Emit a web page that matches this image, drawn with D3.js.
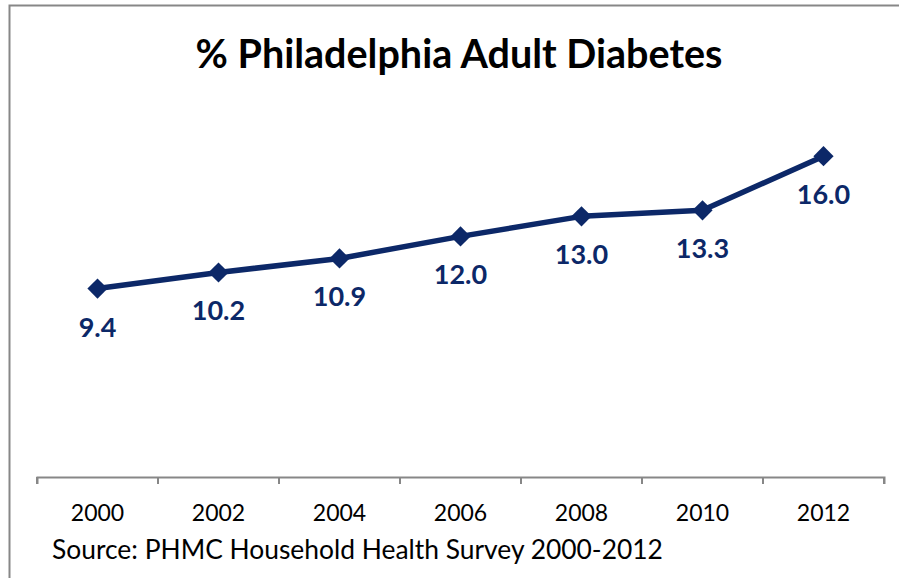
<meta charset="utf-8">
<title>Philadelphia Adult Diabetes</title>
<style>
  body { margin: 0; background: #fff; }
</style>
<body>
<script src="https://cdn.jsdelivr.net/npm/d3@7"></script>
<script>

var width = 899;
var height = 578;
var margin = { top: 76, right: 15, bottom: 101, left: 37 };

// data
var years = ['2000', '2002', '2004', '2006', '2008', '2010', '2012'];
var diabetes = [9.4, 10.2, 10.9, 12.0, 13.0, 13.3, 16.0];
var navy = '#0c2868';

var svg = d3.select('body')
  .append('svg')
  .attr('width', width)
  .attr('height', height)
  .style('display', 'block');

// chart border (runs off right and bottom)
svg.append('rect')
  .attr('x', 9.5).attr('y', 5.5)
  .attr('width', width + 20).attr('height', height + 20)
  .style('fill', 'none')
  .style('stroke', '#878787')
  .style('stroke-width', 2);

svg.append('text')
  .attr('x', 459).attr('y', 68)
  .attr('text-anchor', 'middle')
  .style('font-family', 'Lato, "Open Sans", sans-serif')
  .style('font-weight', 'bold')
  .style('font-size', '39.5px')
  .text('% Philadelphia Adult Diabetes');

var x = d3.scaleBand()
  .domain(years)
  .range([margin.left, width - margin.right]);

var y = d3.scaleLinear()
  .domain([0, 20])
  .range([height - margin.bottom, margin.top]);

var xAxis = d3.axisBottom(x)
  .tickSize(7)
  .tickPadding(21)
  .tickSizeOuter(7);

var gX = svg.append('g')
  .attr('transform', 'translate(0,' + (height - margin.bottom) + ')')
  .call(xAxis);

gX.select('.domain').style('stroke', '#878787').style('stroke-width', 2);
// move ticks to the band edges
gX.selectAll('.tick line')
  .attr('x1', x.bandwidth() / 2).attr('x2', x.bandwidth() / 2)
  .style('stroke', '#878787').style('stroke-width', 2);
gX.selectAll('.tick text')
  .style('font-family', 'Lato, "Open Sans", sans-serif')
  .style('font-size', '23px')
  .style('fill', '#000');
svg.append('line')
  .attr('x1', margin.left).attr('x2', margin.left)
  .attr('y1', height - margin.bottom).attr('y2', height - margin.bottom + 7)
  .style('stroke', '#878787').style('stroke-width', 2);

var cx = function(d, i) { return x(years[i]) + x.bandwidth() / 2; };

var line = d3.line()
  .x(cx)
  .y(function(d) { return y(d); });

svg.append('path')
  .datum(diabetes)
  .attr('d', line)
  .style('fill', 'none')
  .style('stroke', navy)
  .style('stroke-width', 5.5)
  .style('stroke-linejoin', 'round');

svg.append('g').selectAll('path.marker')
  .data(diabetes)
  .enter()
  .append('path')
  .attr('class', 'marker')
  .attr('d', d3.symbol().type(d3.symbolDiamond2).size(260))
  .attr('transform', function(d, i) { return 'translate(' + cx(d, i) + ',' + y(d) + ')'; })
  .style('fill', navy);

svg.append('g').selectAll('text.lbl')
  .data(diabetes)
  .enter()
  .append('text')
  .attr('class', 'lbl')
  .attr('x', cx)
  .attr('y', function(d) { return y(d) + 48; })
  .attr('text-anchor', 'middle')
  .style('font-family', 'Lato, "Open Sans", sans-serif')
  .style('font-weight', 'bold')
  .style('font-size', '27px')
  .style('fill', navy)
  .text(function(d) { return d.toFixed(1); });

svg.append('text')
  .attr('x', 52).attr('y', 559)
  .style('font-family', 'Lato, "Open Sans", sans-serif')
  .style('font-size', '26.4px')
  .text('Source: PHMC Household Health Survey 2000-2012');

</script>
